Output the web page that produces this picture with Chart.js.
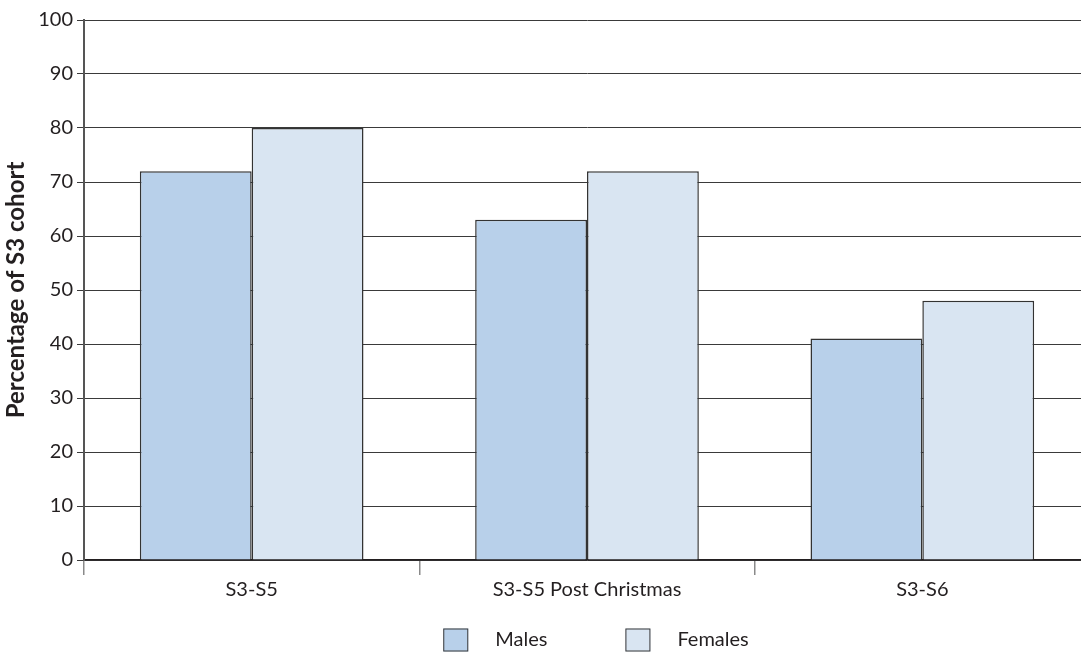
<!DOCTYPE html>
<html>
<head>
<meta charset="utf-8">
<script src="https://cdn.jsdelivr.net/npm/chart.js@4.4.1/dist/chart.umd.min.js"></script>
<style>
  html, body { margin: 0; padding: 0; background: #fff; overflow: hidden; }
  #wrap { position: relative; width: 1090px; height: 659px; }
</style>
</head>
<body>
<div id="wrap"><canvas id="chart"></canvas></div>
<script>
// Share of the S3 cohort staying on, by stage and sex
const categories = ['S3-S5', 'S3-S5 Post Christmas', 'S3-S6'];
const males = [72, 63, 41];
const females = [80, 72, 48];
const seriesNames = ['Males', 'Females'];
const yTitle = 'Percentage of S3 cohort';

const FONT = 'Lato, "Open Sans", sans-serif';
const TEXT = '#231f20';

// Legend drawn under the axis: bordered square swatch, then the series name
const bottomLegend = {
  id: 'bottomLegend',
  afterDraw(chart) {
    const ctx = chart.ctx;
    const box = 25, boxH = 23, gap = 27, itemGap = 78;
    ctx.save();
    ctx.font = '20px ' + FONT;
    const items = chart.data.datasets.map(ds => ({
      label: ds.label, fill: ds.backgroundColor, w: ctx.measureText(ds.label).width
    }));
    let total = 0;
    items.forEach((it, i) => { total += box + gap + it.w + (i < items.length - 1 ? itemGap : 0); });
    let x = (chart.chartArea.left + chart.chartArea.right) / 2 - total / 2 + 9;
    const cy = 640;
    items.forEach(it => {
      ctx.fillStyle = it.fill;
      ctx.fillRect(x, cy - boxH / 2, box, boxH);
      ctx.strokeStyle = '#3a3a3a';
      ctx.lineWidth = 1;
      ctx.strokeRect(x + 0.5, cy - boxH / 2 + 0.5, box - 1, boxH - 1);
      ctx.fillStyle = TEXT;
      ctx.textBaseline = 'middle';
      ctx.textAlign = 'left';
      ctx.fillText(it.label, x + box + gap, cy);
      x += box + gap + it.w + itemGap;
    });
    ctx.restore();
  }
};

new Chart(document.getElementById('chart'), {
  type: 'bar',
  data: {
    labels: categories,
    datasets: [
      { label: seriesNames[0], data: males, backgroundColor: '#b8d0ea', borderColor: '#333333', borderWidth: 1.5 },
      { label: seriesNames[1], data: females, backgroundColor: '#d9e5f2', borderColor: '#333333', borderWidth: 1.5 }
    ]
  },
  options: {
    responsive: true,
    maintainAspectRatio: false,
    animation: false,
    devicePixelRatio: 1,
    datasets: { bar: { categoryPercentage: 0.667, barPercentage: 1.0 } },
    layout: { padding: { top: 20, right: 0, bottom: 54, left: 0 } },
    plugins: { legend: { display: false }, tooltip: { enabled: false } },
    scales: {
      x: {
        offset: true,
        grid: { offset: true, drawOnChartArea: false, drawTicks: true, tickLength: 15, color: '#8a8a8a', lineWidth: 1.5 },
        border: { display: true, color: '#231f20', width: 1.5 },
        ticks: { color: TEXT, font: { family: FONT, size: 20 }, padding: 3 }
      },
      y: {
        min: 0, max: 100,
        ticks: { stepSize: 10, color: TEXT, font: { family: FONT, size: 20 }, padding: 4 },
        grid: { color: '#3a3a3a', lineWidth: 1, tickLength: 7 },
        border: { display: true, color: '#555', width: 2 },
        title: { display: true, text: yTitle, color: TEXT, font: { family: FONT, size: 24, weight: 'bold' }, padding: { top: 2, bottom: 0 } },
        afterFit(scale) { scale.width = 84; }
      }
    }
  },
  plugins: [bottomLegend]
});
</script>
</body>
</html>
